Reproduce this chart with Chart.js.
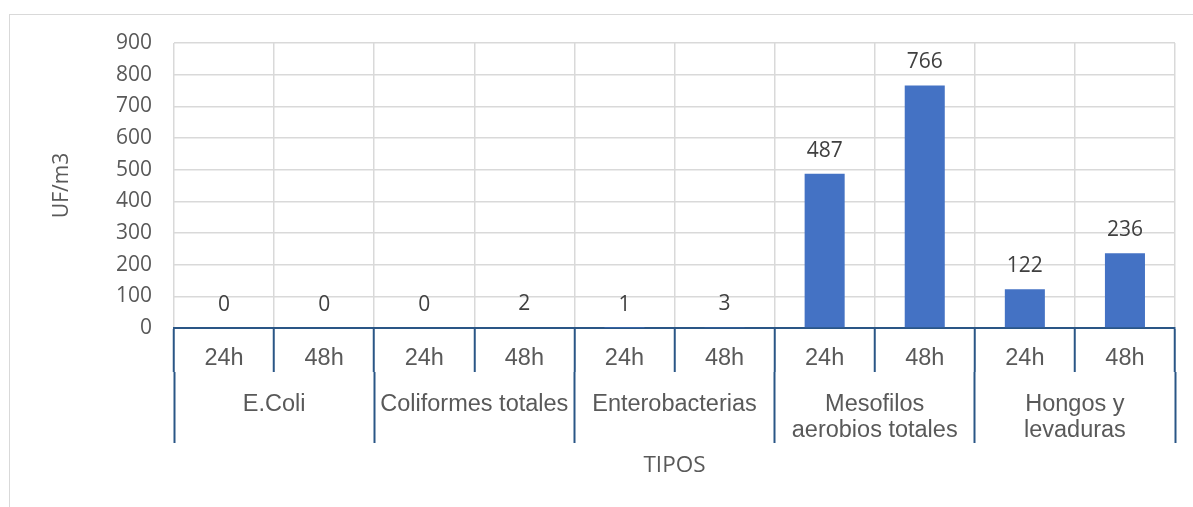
<!DOCTYPE html>
<html>
<head>
<meta charset="utf-8">
<title>UF/m3 por tipo</title>
<script src="https://cdn.jsdelivr.net/npm/chart.js@4.4.1/dist/chart.umd.min.js"></script>
<style>
  html, body { margin: 0; padding: 0; background: #ffffff; }
  #wrap { position: relative; width: 1193px; height: 507px; overflow: hidden; }
  #frame {
    position: absolute; left: 9px; top: 14px; width: 1300px; height: 600px;
    border-left: 1px solid #d9d9d9; border-top: 1px solid #d9d9d9;
  }
  #c { position: absolute; left: 0; top: 0; }
</style>
</head>
<body>
<div id="wrap">
  <div id="frame"></div>
  <canvas id="c" width="1193" height="507"></canvas>
</div>
<script>
// Incubation times (inner category level)
const timeLabels = ['24h', '48h', '24h', '48h', '24h', '48h', '24h', '48h', '24h', '48h'];
// Organism groups (outer category level), two bars each
const groupLabels = [
  'E.Coli',
  'Coliformes totales',
  'Enterobacterias',
  ['Mesofilos', 'aerobios totales'],
  ['Hongos y', 'levaduras']
];
// Counts in UF/m3
const counts = [0, 0, 0, 2, 1, 3, 487, 766, 122, 236];
// Value axis ticks
const yTicks = [0, 100, 200, 300, 400, 500, 600, 700, 800, 900];

const BLUE_AXIS = '#2a5686';
const GRID = '#d9d9d9';
const TEXT = '#595959';

// Writes each bar's value above it
const valueLabels = {
  id: 'valueLabels',
  afterDatasetsDraw(chart) {
    const ctx = chart.ctx;
    const meta = chart.getDatasetMeta(0);
    const data = chart.data.datasets[0].data;
    ctx.save();
    ctx.font = '21px "Open Sans"';
    ctx.fillStyle = '#404040';
    ctx.textAlign = 'center';
    ctx.textBaseline = 'alphabetic';
    meta.data.forEach((bar, i) => {
      ctx.fillText(String(data[i]), bar.x, bar.y - 17);
    });
    ctx.restore();
  }
};

new Chart(document.getElementById('c'), {
  type: 'bar',
  data: {
    labels: timeLabels,
    datasets: [{
      data: counts,
      backgroundColor: '#4472c4',
      borderWidth: 0,
      categoryPercentage: 1,
      barPercentage: 0.4
    }]
  },
  options: {
    responsive: false,
    animation: false,
    events: [],
    layout: { padding: { top: 43, right: 18, left: 0, bottom: 0 } },
    plugins: { legend: { display: false }, tooltip: { enabled: false } },
    scales: {
      x: {
        type: 'category',
        position: 'bottom',
        weight: 0,
        offset: true,
        grid: {
          offset: true,
          color: GRID,
          lineWidth: 1.5,
          tickColor: BLUE_AXIS,
          tickWidth: 2,
          tickLength: 44
        },
        border: { display: true, color: BLUE_AXIS, width: 2 },
        ticks: {
          color: TEXT,
          font: { family: '"Liberation Sans", Arial', size: 23.5, lineHeight: 1.2 },
          padding: -28,
          maxRotation: 0,
          minRotation: 0,
          autoSkip: false
        },
        afterFit(scale) { scale.height = 44; }
      },
      x2: {
        type: 'category',
        position: 'bottom',
        weight: 1,
        labels: groupLabels,
        offset: true,
        grid: {
          offset: true,
          drawOnChartArea: false,
          color: BLUE_AXIS,
          tickColor: BLUE_AXIS,
          tickWidth: 2,
          tickLength: 71
        },
        border: { display: false },
        ticks: {
          color: TEXT,
          font: { family: '"Liberation Sans", Arial', size: 23.5, lineHeight: 1.1 },
          padding: -51,
          maxRotation: 0,
          minRotation: 0,
          autoSkip: false
        },
        title: {
          display: true,
          text: 'TIPOS',
          color: TEXT,
          font: { family: '"Open Sans"', size: 22.5, lineHeight: 1.2 },
          padding: { top: 0, bottom: 28 }
        },
        afterFit(scale) { scale.height = 135; }
      },
      y: {
        min: yTicks[0],
        max: yTicks[yTicks.length - 1],
        afterBuildTicks(scale) { scale.ticks = yTicks.map(v => ({ value: v })); },
        grid: { color: GRID, lineWidth: 1.5, drawTicks: false },
        border: { display: false },
        ticks: {
          color: TEXT,
          font: { family: '"Open Sans"', size: 21 },
          padding: 22
        },
        title: {
          display: true,
          text: 'UF/m3',
          color: TEXT,
          font: { family: '"Open Sans"', size: 21, lineHeight: 1.2 },
          padding: { top: 49, bottom: 0 }
        },
        afterFit(scale) { scale.width = 174; }
      }
    }
  },
  plugins: [valueLabels]
});
</script>
</body>
</html>
